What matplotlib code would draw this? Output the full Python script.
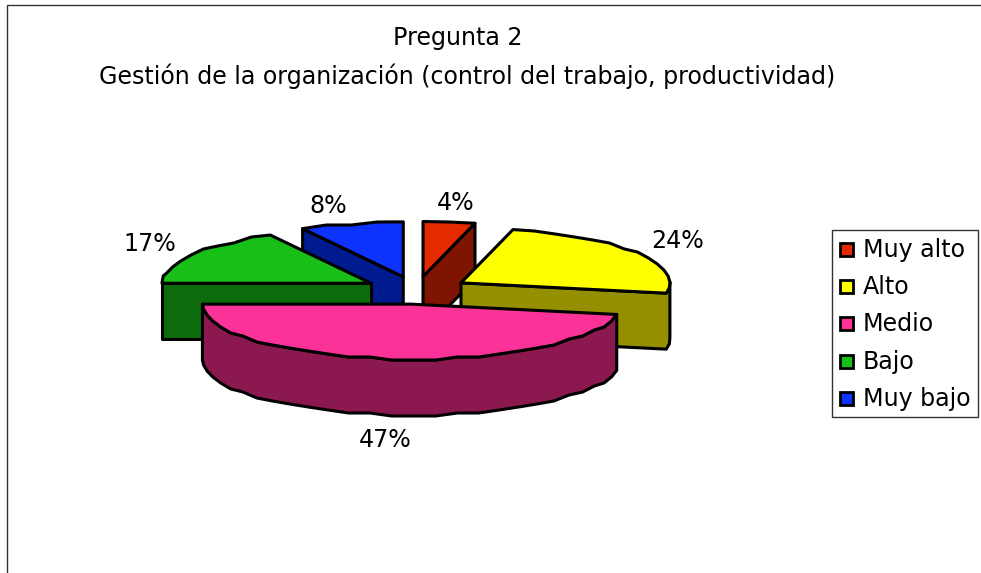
import numpy as np
import matplotlib
matplotlib.use("Agg")
import matplotlib.pyplot as plt
from matplotlib.patches import Polygon, Rectangle

plt.rcParams['font.family'] = ['DejaVu Sans']

categories = ["Muy alto", "Alto", "Medio", "Bajo", "Muy bajo"]
values = [4, 24, 47, 17, 8]
pct_labels = ["4%", "24%", "47%", "17%", "8%"]
title_lines = ["Pregunta 2", "Gestión de la organización (control del trabajo, productividad)"]

top_colors = ["#E62A00", "#FFFF00", "#FB3399", "#17BF17", "#0F33FF"]
side_colors = ["#7F1400", "#949000", "#8C1850", "#0C6C0C", "#001A8F"]
pct_pos = [(456, 203), (678, 241), (385, 440), (150, 244), (328, 206)]
legend_y = [250, 287, 324, 362, 399]

# pie geometry, in pixels
cx, cy = 416.4, 290.3
rx, ry = 209, 55
explode = 52.8
depth = 56
lw = 2.2
fontsize = 17.1

fig = plt.figure(figsize=(9.81, 5.73), dpi=100)
ax = fig.add_axes([0, 0, 1, 1])
ax.set_xlim(0, 981)
ax.set_ylim(573, 0)
ax.axis("off")

# outer frame, runs off the right and bottom
ax.add_patch(Rectangle((7, 5), 1000, 600, fc="white", ec="#333333", lw=1.0))

edges = np.cumsum([0] + values) / sum(values) * 2 * np.pi


def slice_poly(i):
    t0, t1 = edges[i], edges[i + 1]
    mid = (t0 + t1) / 2
    x0 = cx + explode * np.sin(mid)
    y0 = cy - explode * ry / rx * np.cos(mid)
    n = max(2, int(np.degrees(t1 - t0) / 6) + 1)
    t = np.linspace(t0, t1, n)
    arc_x = x0 + rx * np.sin(t)
    arc_y = y0 - ry * np.cos(t)
    # the original arcs are stepped, snap the inner points to a coarse grid
    arc_y[1:-1] = np.round(arc_y[1:-1] / 3) * 3
    return np.r_[x0, arc_x], np.r_[y0, arc_y]


def wall_runs(xs):
    # walls: only the edges running leftwards face the viewer
    count = len(xs)
    left = [xs[(j + 1) % count] < xs[j] for j in range(count)]
    runs = []
    for j in range(count):
        if left[j] and not left[j - 1]:
            run = [j]
            while left[run[-1] % count]:
                run.append(run[-1] + 1)
            runs.append([r % count for r in run])
    return runs


mids = (edges[:-1] + edges[1:]) / 2
for i in np.argsort(-np.cos(mids)):
    xs, ys = slice_poly(i)
    for run in wall_runs(xs):
        wx, wy = xs[run], ys[run]
        outline = np.r_[np.c_[wx, wy], np.c_[wx, wy + depth][::-1]]
        ax.add_patch(Polygon(outline, fc=side_colors[i], ec="black", lw=lw, joinstyle="round", zorder=3))
    ax.add_patch(Polygon(np.c_[xs, ys], fc=top_colors[i], ec="black", lw=lw, joinstyle="round", zorder=3))

ax.text(458, 38, title_lines[0], ha="center", va="center", fontsize=fontsize)
ax.text(467, 76, title_lines[1], ha="center", va="center", fontsize=fontsize)

for lab, (x, y) in zip(pct_labels, pct_pos):
    ax.text(x, y, lab, ha="center", va="center", fontsize=fontsize, zorder=4)

# legend
ax.add_patch(Rectangle((832, 230), 146, 187, fc="white", ec="#333333", lw=1.0, zorder=4))
for name, y, c in zip(categories, legend_y, top_colors):
    ax.add_patch(Rectangle((840, y - 7), 13, 13, fc=c, ec="black", lw=2.0, zorder=5))
    ax.text(863, y, name, ha="left", va="center", fontsize=fontsize, zorder=5)

fig.savefig("out.png", dpi=100)
